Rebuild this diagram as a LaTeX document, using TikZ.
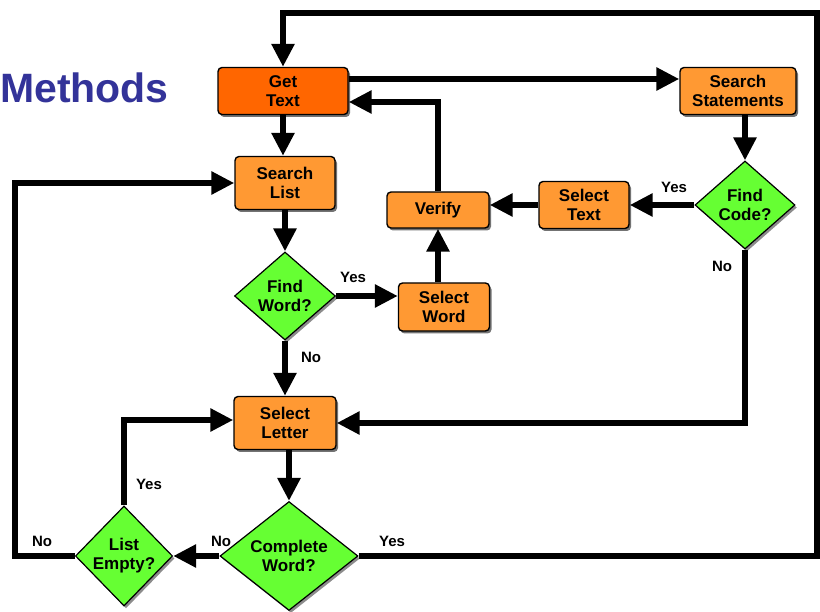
\documentclass[tikz,border=0pt]{standalone}
\usepackage{fontspec}
\setmainfont{Liberation Sans}
\usetikzlibrary{shapes.geometric,arrows.meta,shadows}

\definecolor{getorange}{HTML}{FF6600}
\definecolor{boxorange}{HTML}{FF9933}
\definecolor{diagreen}{HTML}{66FF33}
\definecolor{methodblue}{HTML}{333399}
\newcommand\boxfont{\fontsize{17}{19}\selectfont\bfseries}
\newcommand\labfont{\fontsize{15}{16}\selectfont\bfseries}

\begin{document}
\begin{tikzpicture}[x=1pt, y=-1pt,
    box/.style={draw, line width=1.4pt, rounded corners=4pt, fill=boxorange, inner sep=0pt, align=center, font=\boxfont,
      drop shadow={shadow xshift=2pt, shadow yshift=-2.5pt, fill=black!55, opacity=1}},
    dec/.style={diamond, draw, line width=1.2pt, fill=diagreen, inner sep=0pt, align=center, font=\boxfont,
      drop shadow={shadow xshift=2pt, shadow yshift=-2.5pt, fill=black!45, opacity=1}},
    flow/.style={line width=6pt, -{Triangle[length=23pt, width=22pt]}},
    lab/.style={font=\labfont, inner sep=0pt}]
     \useasboundingbox (0,0) rectangle (820,612);

     % タイトル
     \node [anchor=base west, inner sep=0pt, font=\fontsize{41}{44}\selectfont\bfseries, text=methodblue] (title) at (0,103) {Methods};

     % 箱
     \node [box, fill=getorange, minimum width=130pt, minimum height=47pt] (get) at (283,91) {Get\\Text};
     \node [box, minimum width=116pt, minimum height=47pt] (stmt) at (738,91) {Search\\Statements};
     \node [box, minimum width=100pt, minimum height=53pt] (slist) at (285,183) {Search\\List};
     \node [box, minimum width=102pt, minimum height=36pt] (verify) at (438,210) {Verify};
     \node [box, minimum width=90pt, minimum height=47pt] (seltext) at (584,205) {Select\\Text};
     \node [box, minimum width=91pt, minimum height=48pt] (selword) at (444,307) {Select\\Word};
     \node [box, minimum width=102pt, minimum height=53pt] (selletter) at (285,423) {Select\\Letter};

     % 判断
     \node [dec, minimum width=100pt, minimum height=88pt] (findcode) at (745,205) {Find\\Code?};
     \node [dec, minimum width=101pt, minimum height=88pt] (findword) at (285,296) {Find\\Word?};
     \node [dec, minimum width=138pt, minimum height=104pt] (complete) at (289,556) {Complete\\Word?};
     \node [dec, minimum width=88pt, minimum height=100pt] (listempty) at (124,556) {List\\Empty?};

     % 矢印
     \coordinate (tr) at (817,13);
     \coordinate (bl) at (15,183);
     \draw [flow] (complete.east) -| (tr) -| (get.north);
     \draw [flow] ([yshift=12pt]get.east) -- ([yshift=12pt]stmt.west);
     \draw [flow] (verify.north) |- ([yshift=-11pt]get.east);
     \draw [flow] (get.south) -- (get.south |- slist.north);
     \draw [flow] (findcode.north |- stmt.south) -- (findcode.north);
     \draw [flow] (findcode.west) -- (seltext.east);
     \draw [flow] (seltext.west) -- (seltext.west -| verify.east);
     \draw [flow] (findcode.south) |- (selletter.east);
     \draw [flow] (slist.south) -- (findword.north);
     \draw [flow] (findword.east) -- (findword.east -| selword.west);
     \draw [flow] (verify.south |- selword.north) -- (verify.south);
     \draw [flow] (findword.south) -- (selletter.north);
     \draw [flow] (complete.north |- selletter.south) -- (complete.north);
     \draw [flow] (complete.west) -- (listempty.east);
     \draw [flow] (listempty.north) |- ([yshift=3pt]selletter.west);
     \draw [flow] (listempty.west) -| (bl) -- (slist.west);

     % Yes / No
     \node [lab] (fcyes) at (674,187) {Yes};
     \node [lab] (fcno) at (722,266) {No};
     \node [lab] (fwyes) at (353,277) {Yes};
     \node [lab] (fwno) at (311,357) {No};
     \node [lab] (leyes) at (149,484) {Yes};
     \node [lab] (leno) at (42,541) {No};
     \node [lab] (cwno) at (221,541) {No};
     \node [lab] (cwyes) at (392,541) {Yes};
\end{tikzpicture}
\end{document}
